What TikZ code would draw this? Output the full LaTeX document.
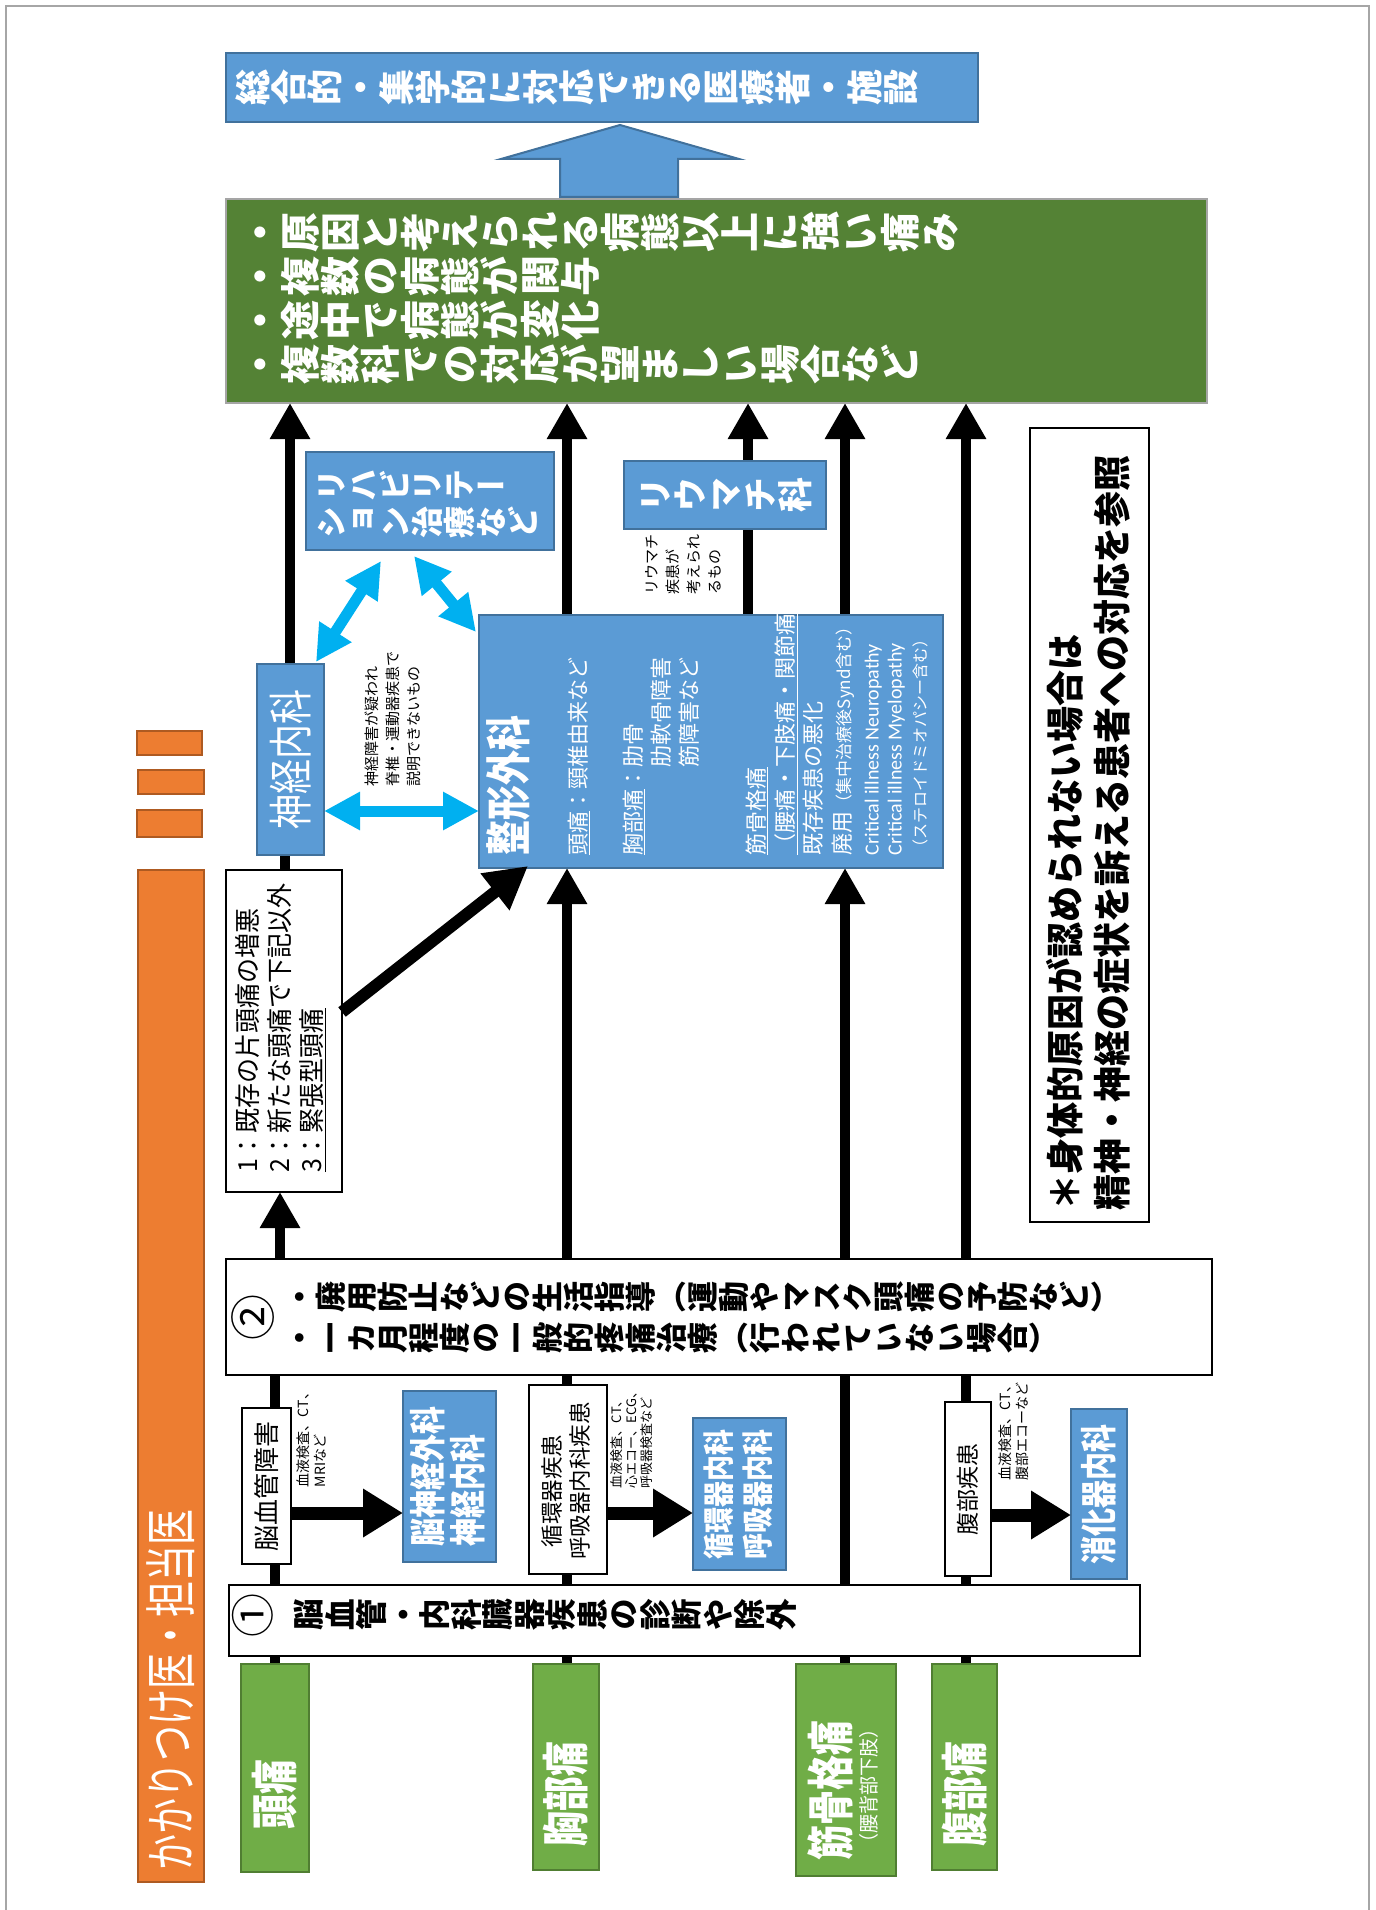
\documentclass[tikz,border=0pt]{standalone}
\usepackage{fontspec}
\usepackage{graphicx}
\setmainfont{Noto Sans CJK JP}
\newfontfamily\vfont[RawFeature=+vert]{Noto Sans CJK JP}
\newfontfamily\carl{Carlito}
\usetikzlibrary{arrows.meta,calc,backgrounds}
\newcommand\fs[2]{\fontsize{#1pt}{#2pt}\selectfont}
\newcommand\vch[1]{\rotatebox[origin=c]{90}{\makebox[1em][c]{\raisebox{0pt}[0.88em][0.12em]{#1}}}}
\ExplSyntaxOn
\NewDocumentCommand\vtx{m}{\tl_map_inline:nn{#1}{\vch{##1}}}
\ExplSyntaxOff
\newsavebox\rtbox
\def\rtk{1}
\definecolor{bfill}{HTML}{5B9BD5}
\definecolor{bdraw}{HTML}{41719C}
\definecolor{gdark}{HTML}{548235}
\definecolor{gtdraw}{HTML}{A5A5A5}
\definecolor{glight}{HTML}{70AD47}
\definecolor{gldraw}{HTML}{507E32}
\definecolor{ofill}{HTML}{ED7D31}
\definecolor{odraw}{HTML}{AE5A21}
\definecolor{cy}{HTML}{00B0F0}
\newcommand\bx[6]{\node[#1, minimum width={(#5-#3)*1pt}, minimum height={(#6-#4)*1pt}] (#2) at ({(#3+#5)/2},{(#4+#6)/2}) {};}
\tikzset{
  boxbase/.style={draw, inner sep=0pt, outer sep=0pt},
  bluebox/.style={boxbase, fill=bfill, draw=bdraw, line width=2pt},
  whitebox/.style={boxbase, fill=white, draw=black, line width=2.2pt},
  greenT/.style={boxbase, fill=gdark, draw=gtdraw, line width=1.5pt},
  greenL/.style={boxbase, fill=glight, draw=gldraw, line width=2pt},
  orangebox/.style={boxbase, fill=ofill, draw=odraw, line width=2pt},
  vt/.style={inner sep=0pt, outer sep=0pt, anchor=west},
  sx/.code={\def\rtk{#1}},
  rt/.style={rotate=90, inner sep=0pt, outer sep=0pt, anchor=west,
    execute at begin node={\begin{lrbox}{\rtbox}},
    execute at end node={\end{lrbox}\scalebox{1}[\rtk]{\raisebox{0pt}[0.88em][0.12em]{\usebox{\rtbox}}}}},
  blkline/.style={line width=10pt},
  blkA/.style={line width=10pt, -{Triangle[width=38pt,length=36pt]}},
  blkH/.style={line width=13pt, -{Triangle[width=46pt,length=40pt]}},
  blkD/.style={line width=12pt, -{Triangle[width=44pt,length=42pt]}},
  cyA/.style={draw=cy, line width=11pt, {Triangle[width=36pt,length=36pt]}-{Triangle[width=36pt,length=36pt]}},
}
\begin{document}
\begin{tikzpicture}[x=1pt,y=-1pt]
\useasboundingbox (0,0) rectangle (1375,1910);
\draw[gray!70, line width=1.5pt] (6,6) rectangle (1369,1916);

% boxes
\bx{bluebox}{top}{226}{53}{978}{122}
\bx{greenT}{gr}{226}{199}{1207}{403}
\bx{bluebox}{reha}{306}{452}{554}{550}
\bx{bluebox}{rheu}{624}{461}{826}{529}
\bx{bluebox}{shin}{257}{664}{324}{855}
\bx{bluebox}{sei}{479}{615}{943}{868}
\bx{whitebox}{hd}{226}{870}{342}{1192}
\bx{whitebox}{note}{1030}{428}{1149}{1222}
\bx{whitebox}{ni}{226}{1259}{1212}{1375}
\bx{whitebox}{nkk}{242}{1408}{291}{1564}
\bx{bluebox}{nsg}{403}{1391}{496}{1562}
\bx{whitebox}{jun}{529}{1385}{607}{1574}
\bx{bluebox}{junk}{693}{1418}{786}{1570}
\bx{whitebox}{fks}{945}{1402}{991}{1576}
\bx{bluebox}{sho}{1071}{1409}{1127}{1579}
\bx{whitebox}{ichi}{229}{1585}{1140}{1656}
\bx{greenL}{tou}{241}{1664}{309}{1872}
\bx{greenL}{kyo}{533}{1664}{599}{1870}
\bx{greenL}{kin}{796}{1664}{896}{1876}
\bx{greenL}{fuku}{932}{1664}{997}{1870}
\bx{orangebox}{kak}{138}{870}{204}{1882}
\bx{orangebox}{oa}{137}{731}{202}{755}
\bx{orangebox}{ob}{138}{770}{204}{794}
\bx{orangebox}{oc}{137}{810}{202}{837}

% block arrow up
\draw[fill=bfill, draw=bdraw, line width=2pt] (560,197) -- (560,159) -- (501,159) -- (620,125) -- (739,159) -- (678,159) -- (678,197) -- cycle;

% column coordinates
\coordinate (c1) at (275,0);
\coordinate (c1b) at (280,0);
\coordinate (c1c) at (285,0);
\coordinate (c1d) at (290,0);
\coordinate (c2) at (567,0);
\coordinate (c3) at (845,0);
\coordinate (c4) at (966,0);
\coordinate (cr) at (748,0);

\begin{pgfonlayer}{background}
\draw[blkline] (tou.north -| c1) -- (ichi.south -| c1);
\draw[blkline] (ichi.north -| c1) -- (ni.south -| c1);
\draw[blkA] (ni.north -| c1b) -- (hd.south -| c1b);
\draw[blkline] (hd.north -| c1c) -- (shin.south -| c1c);
\draw[blkA] (shin.north -| c1d) -- (gr.south -| c1d);
\draw[blkline] (kyo.north -| c2) -- (ichi.south -| c2);
\draw[blkline] (ichi.north -| c2) -- (ni.south -| c2);
\draw[blkA] (ni.north -| c2) -- (sei.south -| c2);
\draw[blkA] (sei.north -| c2) -- (gr.south -| c2);
\draw[blkline] (kin.north -| c3) -- (ichi.south -| c3);
\draw[blkline] (ichi.north -| c3) -- (ni.south -| c3);
\draw[blkA] (ni.north -| c3) -- (sei.south -| c3);
\draw[blkA] (sei.north -| c3) -- (gr.south -| c3);
\draw[blkline] (fuku.north -| c4) -- (ichi.south -| c4);
\draw[blkline] (ichi.north -| c4) -- (ni.south -| c4);
\draw[blkA] (ni.north -| c4) -- (gr.south -| c4);
\draw[blkA] (sei.north -| cr) -- (gr.south -| cr);
\end{pgfonlayer}

% horizontal arrows
\coordinate (ha) at (0,1513);
\coordinate (hb) at (0,1515);
\draw[blkH] (nkk.east |- ha) -- (nsg.west |- ha);
\draw[blkH] (jun.east |- ha) -- (junk.west |- ha);
\draw[blkH] (fks.east |- hb) -- (sho.west |- hb);

% diagonal arrow
\coordinate (dgs) at (0,1012);
\coordinate (dgt) at (528,866);
\draw[blkD] (hd.east |- dgs) -- (dgt);

% cyan arrows
\coordinate (cya) at (316,662);
\coordinate (cyb) at (381,561);
\coordinate (cyc) at (414,556);
\coordinate (cyd) at (476,632);
\coordinate (cye) at (0,811);
\draw[cyA] (cya) -- (cyb);
\draw[cyA] (cyc) -- (cyd);
\draw[cyA] (shin.east |- cye) -- (sei.west |- cye);

% vertical-writing texts (glyphs rotated)
\node[vt, text=white, font=\vfont\bfseries\fs{36}{36}] (ttop) at (235,88) {\vtx{総合的・集学的に対応できる医療者・施設}};
\node[vt, text=white, font=\vfont\bfseries\fs{40}{40}] (tg1) at (240,232) {\vtx{・原因と考えられる病態以上に強い痛み}};
\node[vt, text=white, font=\vfont\bfseries\fs{40}{40}] (tg2) at (240,276) {\vtx{・複数の病態が関与}};
\node[vt, text=white, font=\vfont\bfseries\fs{40}{40}] (tg3) at (240,320) {\vtx{・途中で病態が変化}};
\node[vt, text=white, font=\vfont\bfseries\fs{40}{40}] (tg4) at (240,364) {\vtx{・複数科での対応が望ましい場合など}};
\node[vt, text=white, font=\vfont\bfseries\fs{32}{32}] (tr1) at (315,485) {\vtx{リハビリテー}};
\node[vt, text=white, font=\vfont\bfseries\fs{32}{32}] (tr2) at (315,522) {\vtx{ション治療など}};
\node[vt, anchor=center, text=white, font=\vfont\bfseries\fs{35}{35}] (trh) at (rheu.center) {\vtx{リウマチ科}};
\node[vt, anchor=center, font=\vfont\fs{46}{46}] (tn2) at (253,1317) {\vtx{②}};
\node[vt, font=\vfont\bfseries\fs{31}{31}] (tn2a) at (284,1297) {\vtx{・廃用防止などの生活指導（運動やマスク頭痛の予防など）}};
\node[vt, font=\vfont\bfseries\fs{31}{31}] (tn2b) at (284,1338) {\vtx{・一カ月程度の一般的疼痛治療（行われていない場合）}};
\node[vt, anchor=center, font=\vfont\fs{44}{44}] (tn1) at (253,1615) {\vtx{①}};
\node[vt, font=\vfont\bfseries\fs{31.5}{31.5}] (tn1a) at (293,1615) {\vtx{脳血管・内科臓器疾患の診断や除外}};

% horizontal-writing texts (rotated 90)
\node[rt, sx=1.45, text=white, font=\fs{36}{36}] (tkak) at (171,1870) {かかりつけ医・担当医};
\node[rt, sx=1.35, anchor=center, text=white, font=\bfseries\fs{35}{35}] (ttou) at (275,1794) {頭痛};
\node[rt, sx=1.35, anchor=center, text=white, font=\bfseries\fs{35}{35}] (tkyo) at (566,1794) {胸部痛};
\node[rt, sx=1.35, anchor=center, text=white, font=\bfseries\fs{35}{35}] (tkin) at (831,1790) {筋骨格痛};
\node[rt, sx=1.05, anchor=center, text=white, font=\fs{19}{19}] (tkin2) at (869,1786) {（腰背部下肢）};
\node[rt, sx=1.35, anchor=center, text=white, font=\bfseries\fs{35}{35}] (tfuku) at (965,1794) {腹部痛};

\node[rt, anchor=center, font=\fs{26}{26}] (tnkk) at (nkk.center) {脳血管障害};
\node[rt, font=\fs{14}{14}] (tk1a) at (303,1487) {血液検査、CT、};
\node[rt, font=\fs{14}{14}] (tk1b) at (320,1487) {MRIなど};
\node[rt, sx=1.3, text=white, font=\bfseries\fs{28}{28}] (tnsg1) at (428,1546) {脳神経外科};
\node[rt, sx=1.3, text=white, font=\bfseries\fs{28}{28}] (tnsg2) at (468,1546) {神経内科};
\node[rt, anchor=center, font=\fs{22.5}{22.5}] (tjun1) at (552,1491) {循環器疾患};
\node[rt, anchor=center, font=\fs{22.5}{22.5}] (tjun2) at (580,1481) {呼吸器内科疾患};
\node[rt, font=\fs{13}{13}] (tk2a) at (617,1488) {血液検査、CT、};
\node[rt, font=\fs{13}{13}] (tk2b) at (632,1488) {心エコー、ECG、};
\node[rt, font=\fs{13}{13}] (tk2c) at (647,1488) {呼吸器検査など};
\node[rt, sx=1.2, anchor=center, text=white, font=\bfseries\fs{26}{26}] (tjunk1) at (719,1494) {循環器内科};
\node[rt, sx=1.2, anchor=center, text=white, font=\bfseries\fs{26}{26}] (tjunk2) at (758,1494) {呼吸器内科};
\node[rt, anchor=center, font=\fs{23}{23}] (tfks) at (fks.center) {腹部疾患};
\node[rt, font=\fs{14}{14}] (tk3a) at (1005,1480) {血液検査、CT、};
\node[rt, font=\fs{14}{14}] (tk3b) at (1022,1480) {腹部エコーなど};
\node[rt, sx=1.3, anchor=center, text=white, font=\bfseries\fs{28}{28}] (tsho) at (sho.center) {消化器内科};

\node[rt, sx=1.05, font=\fs{25}{25}] (thd1) at (248,1172) {1：既存の片頭痛の増悪};
\node[rt, sx=1.05, font=\fs{25}{25}] (thd2) at (280,1172) {2：新たな頭痛で下記以外};
\node[rt, sx=1.05, font=\fs{25}{25}] (thd3) at (312,1172) {\underline{3：緊張型頭痛}};
\node[rt, sx=1.27, anchor=center, text=white, font=\fs{35}{35}] (tshin) at (shin.center) {神経内科};
\node[rt, font=\fs{15}{15}] (tsk1) at (372,786) {神経障害が疑われ};
\node[rt, font=\fs{15}{15}] (tsk2) at (393,786) {脊椎・運動器疾患で};
\node[rt, font=\fs{15}{15}] (tsk3) at (414,786) {説明できないもの};
\node[rt, font=\fs{15}{15}] (trk1) at (652,594) {リウマチ};
\node[rt, font=\fs{15}{15}] (trk2) at (673,594) {疾患が};
\node[rt, font=\fs{15}{15}] (trk3) at (694,594) {考えられ};
\node[rt, font=\fs{15}{15}] (trk4) at (715,594) {るもの};
\node[rt, sx=1.05, font=\bfseries\fs{36}{36}] (tnote1) at (1065,1210) {＊身体的原因が認められない場合は};
\node[rt, sx=1.05, font=\bfseries\fs{36}{36}] (tnote2) at (1112,1210) {精神・神経の症状を訴える患者への対応を参照};

% 整形外科 box contents
\node[rt, sx=1.3, text=white, font=\bfseries\fs{35}{35}] (ts0) at (508,855) {整形外科};
\node[rt, text=white, font=\fs{22}{22}] (ts1) at (578,855) {\underline{頭痛}：頸椎由来など};
\node[rt, text=white, font=\fs{22}{22}] (ts2) at (633,855) {\underline{胸部痛}：肋骨};
\node[rt, text=white, font=\fs{22}{22}] (ts3) at (661,855) {\phantom{胸部痛：}肋軟骨障害};
\node[rt, text=white, font=\fs{22}{22}] (ts4) at (689,855) {\phantom{胸部痛：}筋障害など};
\node[rt, text=white, font=\fs{22}{22}] (ts5) at (756,855) {\underline{筋骨格痛}};
\node[rt, text=white, font=\fs{22}{22}] (ts6) at (785,855) {\underline{（腰痛・下肢痛・関節痛）}};
\node[rt, text=white, font=\fs{22}{22}] (ts7) at (813,855) {既存疾患の悪化};
\node[rt, text=white, font=\fs{22}{22}] (ts8) at (842,855) {廃用{\fs{17}{17}（集中治療後Synd含む）}};
\node[rt, text=white, font=\carl\fs{20}{20}] (ts9) at (871,855) {Critical illness Neuropathy};
\node[rt, text=white, font=\carl\fs{20}{20}] (ts10) at (894,855) {Critical illness Myelopathy};
\node[rt, text=white, font=\fs{16}{16}] (ts11) at (920,855) {（ステロイドミオパシー含む）};
\end{tikzpicture}
\end{document}
